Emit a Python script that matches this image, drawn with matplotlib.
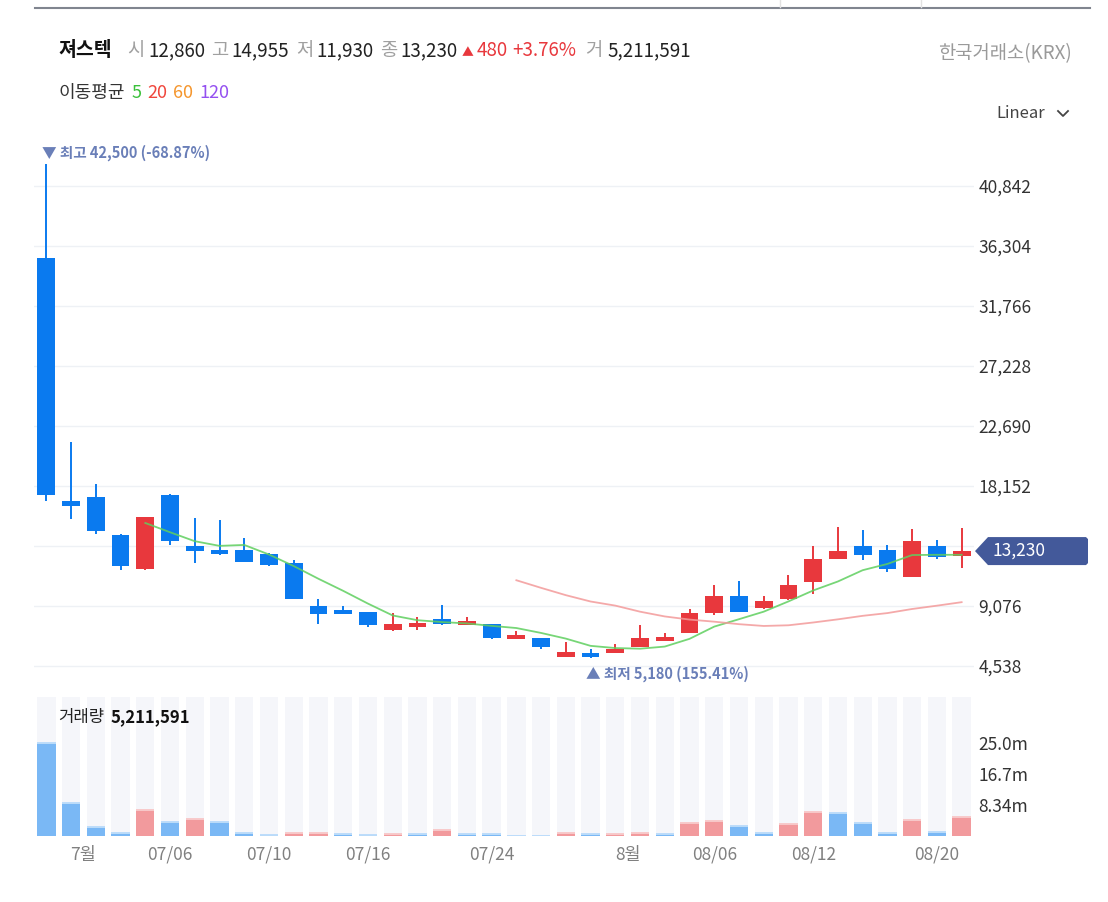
import numpy as np
import pandas as pd
import matplotlib
matplotlib.use("Agg")
import matplotlib.pyplot as plt
from matplotlib.patches import Polygon
from matplotlib.lines import Line2D
from matplotlib.transforms import IdentityTransform

plt.rcParams['font.family'] = ['Noto Sans CJK KR', 'DejaVu Sans']

# ---- data (daily, KRX) ----
dates = ['06/29', '06/30',
         '07/01', '07/02', '07/03', '07/06', '07/07', '07/08', '07/09', '07/10',
         '07/13', '07/14', '07/15', '07/16', '07/20', '07/21', '07/22', '07/23',
         '07/24', '07/27', '07/28', '07/29', '07/30', '07/31',
         '08/03', '08/04', '08/05', '08/06', '08/07', '08/10', '08/11', '08/12',
         '08/13', '08/14', '08/18', '08/19', '08/20', '08/21']
opens = [35400, 17000, 17340, 14420, 11850, 17450, 13590, 13330, 13330, 13010,
         12310, 9100, 8770, 8620, 7260, 7510, 8070, 7610, 7690, 6550,
         6650, 5240, 5500, 5550, 5950, 6450, 7010, 8520, 9830, 8900,
         9600, 10920, 12660, 13590, 13330, 11250, 13590, 12860]
highs = [42500, 21450, 18280, 14520, 15800, 17570, 15730, 15580, 14240, 13080,
         12550, 9580, 9080, 8620, 8520, 8220, 9130, 8270, 7690, 7210,
         6650, 6330, 5800, 6200, 7640, 7060, 8830, 10660, 10990, 9830,
         11400, 13610, 15070, 14800, 13690, 14900, 14070, 14955]
lows = [17020, 15630, 14520, 11780, 11780, 13710, 12350, 12910, 12400, 12100,
        9600, 7740, 8450, 7510, 7190, 7260, 7610, 7610, 6550, 6550,
        5850, 5240, 5180, 5550, 5950, 6450, 7010, 8420, 8600, 8850,
        9550, 9960, 12600, 12550, 11670, 11250, 12610, 11930]
closes = [17470, 16650, 14770, 12080, 15800, 13970, 13260, 13010, 12430, 12180,
          9600, 8450, 8450, 7610, 7690, 7810, 7740, 7940, 6680, 6880,
          5950, 5600, 5200, 5850, 6630, 6760, 8520, 9830, 8650, 9480,
          10640, 12660, 13230, 12910, 11850, 14000, 12750, 13230]
volumes = [25020000, 8900000, 2400000, 800000, 7100000, 3700000, 4500000, 3700000,
           800000, 400000, 800000, 850000, 420000, 400000, 450000, 420000,
           1600000, 450000, 420000, 60000, 50000, 700000, 420000, 450000,
           800000, 420000, 3600000, 4000000, 2800000, 800000, 3200000, 6500000,
           6100000, 3600000, 800000, 4400000, 1200000, 5211591]
date_ticks = ['07/06', '07/10', '07/16', '07/24', '08/06', '08/12', '08/20']
name = '져스텍'
market = '한국거래소(KRX)'
ma_periods = [5, 20, 60, 120]
ma_colors = ['#3cc13c', '#f0463c', '#f5962d', '#9450f0']

UP = '#e8383d'
DOWN = '#0a7aef'
UP_V, DOWN_V = '#f29a9d', '#7ab8f5'
UP_CAP, DOWN_CAP = '#f8c9ca', '#bcdcfa'

W, H = 1108, 902
fig = plt.figure(figsize=(W / 100, H / 100), dpi=100)
fig.patch.set_facecolor('white')

x = np.arange(len(dates))
o = np.array(opens); h = np.array(highs); l = np.array(lows); c = np.array(closes)
v = np.array(volumes)

# ---- price panel ----
ax = fig.add_axes([34 / W, 1 - 688 / H, 940 / W, 553 / H])
step = 4538
ax.set_xlim(-0.5, len(dates) - 0.5)
ax.set_ylim(step - 22 * step / 60, step + 531 * step / 60)
yt = np.arange(1, 10) * step
# label under the current-price tag is hidden
ax.set_yticks(yt, [f'{t:,}' if abs(t - c[-1]) > step / 4 else '' for t in yt])
ax.yaxis.tick_right()
ax.tick_params(axis='y', length=0, pad=3, labelsize=12.5, labelcolor='#333333')
ax.set_xticks([])
for s in ax.spines.values():
    s.set_visible(False)
ax.grid(axis='y', color='#eef1f5', lw=1)
ax.set_axisbelow(True)

up = c >= o
cols = np.where(up, UP, DOWN)
ax.vlines(x, l, h, colors=cols, lw=1.4, zorder=2)
body = np.maximum(np.abs(c - o), 60)
ax.bar(x, body, bottom=np.minimum(o, c), width=0.72, color=cols, zorder=3)

s = pd.Series(closes)
for p, col in zip(ma_periods[:2], ['#5fcf5f', '#f39a9a']):
    ma = s.rolling(p).mean()
    ax.plot(x, ma, color=col, lw=1.3, alpha=0.85, zorder=4)

hi = int(np.argmax(h))
lo = int(np.argmin(l))
ax.annotate(f'▼ 최고 {h[hi]:,} ({(c[-1] / h[hi] - 1) * 100:.2f}%)', xy=(hi, h[hi]),
            xytext=(-3.5, 2), textcoords='offset points', ha='left', va='bottom',
            color='#6a7fb8', fontsize=10.5, fontweight='bold', annotation_clip=False)
ax.annotate(f'▲ 최저 {l[lo]:,} ({(c[-1] / l[lo] - 1) * 100:.2f}%)', xy=(lo, l[lo]),
            xytext=(-3, -6), textcoords='offset points', ha='left', va='top',
            color='#6a7fb8', fontsize=10.5, fontweight='bold', annotation_clip=False)

# ---- volume panel ----
axv = fig.add_axes([34 / W, 1 - 836 / H, 940 / W, 139 / H])
axv.set_xlim(-0.5, len(dates) - 0.5)
vmax = v.max()
axv.set_ylim(0, vmax * 1.5)
axv.bar(x, vmax * 1.5, width=0.74, color='#f5f6fa', zorder=0)
vup = np.r_[False, v[1:] > v[:-1]]
axv.bar(x, v, width=0.74, color=np.where(vup, UP_V, DOWN_V), zorder=2)
axv.hlines(v, x - 0.37, x + 0.37, colors=np.where(vup, UP_CAP, DOWN_CAP), lw=1.4, zorder=3)
vt = vmax * np.array([1, 2, 3]) / 3
axv.set_yticks(vt, [f'{t / 1e6:#.3g}m' for t in vt])
axv.yaxis.tick_right()
axv.tick_params(axis='y', length=0, pad=3, labelsize=12.5, labelcolor='#333333')

tick_pos, tick_lab = [], []
for i, d in enumerate(dates):
    if i > 0 and d[:2] != dates[i - 1][:2]:
        tick_pos.append(i - 0.5)
        tick_lab.append(f'{int(d[:2])}월')
    if d in date_ticks:
        tick_pos.append(i)
        tick_lab.append(d)
axv.set_xticks(tick_pos, tick_lab)
axv.tick_params(axis='x', length=0, pad=7, labelsize=12.5, labelcolor='#808080')
for s_ in axv.spines.values():
    s_.set_visible(False)

# ---- header ----
r = fig.canvas.get_renderer()


def row(x0, y0, parts):
    # y0 is the text baseline in pixels from the top
    for txt, col, size, weight, gap in parts:
        t = fig.text(x0 / W, 1 - y0 / H, txt, color=col, fontsize=size,
                     fontweight=weight, va='baseline', ha='left')
        x0 = t.get_window_extent(renderer=r).x1 + gap


chg = c[-1] - c[-2]
pct = chg / c[-2] * 100
G, D = '#a0a0a0', '#222222'
F = 13.5
row(58, 56, [(name, '#111111', 14, 'bold', 16),
             ('시', G, F, 'normal', 3), (f'{o[-1]:,}', D, F, 'medium', 6),
             ('고', G, F, 'normal', 3), (f'{h[-1]:,}', D, F, 'medium', 7),
             ('저', G, F, 'normal', 3), (f'{l[-1]:,}', D, F, 'medium', 7),
             ('종', G, F, 'normal', 3), (f'{c[-1]:,}', D, F, 'medium', 4),
             ('▲', UP, 8.5, 'normal', 3), (f'{chg:,}', UP, F, 'medium', 5),
             (f'+{pct:.2f}%', UP, F, 'medium', 9),
             ('거', G, F, 'normal', 5), (f'{v[-1]:,}', D, F, 'medium', 0)])
row(58, 98, [('이동평균', '#333333', 13, 'normal', 7)] +
    [(str(p), col, 13, 'normal', 6) for p, col in zip(ma_periods, ma_colors)])
row(58, 722, [('거래량', '#222222', 12, 'normal', 6),
              (f'{v[-1]:,}', '#111111', 12, 'bold', 0)])

fig.text(1072 / W, 1 - 54 / H, market, ha='right', va='center', color='#9a9a9a',
         fontsize=13.5)
fig.text(996 / W, 1 - 114 / H, 'Linear', ha='left', va='center', color='#444444',
         fontsize=12)
fig.add_artist(Line2D([1058, 1063, 1068], [H - 111, H - 116, H - 111],
                      color='#444444', lw=1.3, transform=IdentityTransform()))

# top separator
fig.add_artist(Line2D([35, 1090], [H - 8, H - 8], color='#80858f', lw=1.5,
                      transform=IdentityTransform()))
for xv in (780, 921):
    fig.add_artist(Line2D([xv, xv], [H - 7, H], color='#e2e2e2', lw=1,
                          transform=IdentityTransform()))

# current price tag
yc = ax.transData.transform((0, c[-1]))[1]
tag = Polygon([(975, yc), (988, yc + 14), (1086, yc + 14), (1088, yc + 12),
               (1088, yc - 12), (1086, yc - 14), (988, yc - 14)],
              closed=True, facecolor='#43599a', edgecolor='none',
              transform=IdentityTransform(), zorder=5)
fig.add_artist(tag)
fig.text(993 / W, yc / H, f'{c[-1]:,}', color='white', fontsize=12.5, va='center',
         ha='left', zorder=6)

fig.savefig('out.png', dpi=100)
